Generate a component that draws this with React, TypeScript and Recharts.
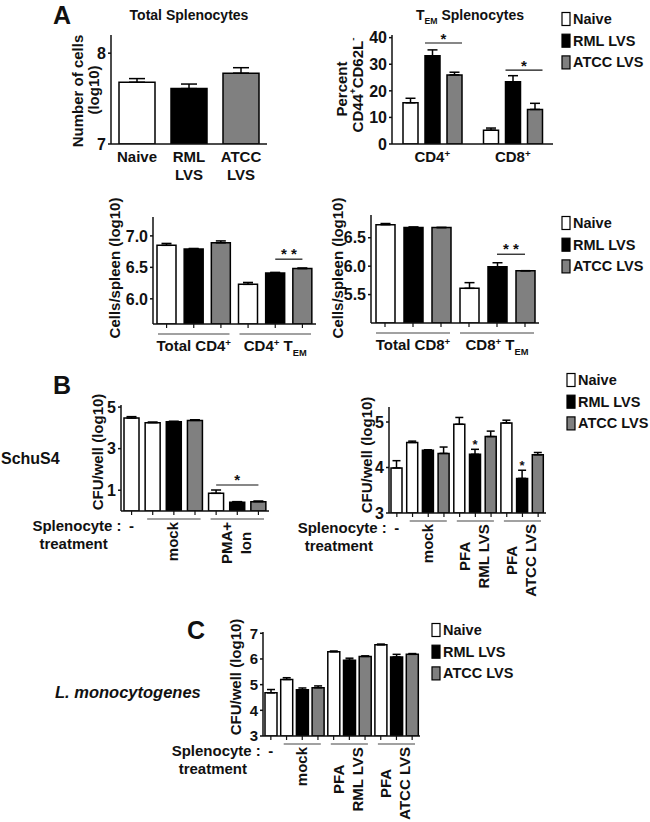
import React from 'react'
import { BarChart, Bar, XAxis, YAxis, Cell, ErrorBar, LabelList, ReferenceLine } from 'recharts'

const FONT = '"Liberation Sans", Arial, sans-serif'
const INK = '#111'

// Series shared by every panel
const SERIES = ['Naive', 'RML LVS', 'ATCC LVS']
const SERIES_FILL = ['#ffffff', '#000000', '#808080']

// A: total splenocytes, number of cells (log10)
const TOTAL_LABELS = [['Naive'], ['RML', 'LVS'], ['ATCC', 'LVS']]
const TOTAL_VALUES = [7.68, 7.61, 7.78]
const TOTAL_ERR = [0.04, 0.05, 0.06]

// A: TEM splenocytes, percent CD44+CD62L-
const TEM_CATS = ['CD4', 'CD8']
const TEM_NAIVE = [15.5, 5.2]
const TEM_NAIVE_ERR = [1.7, 0.8]
const TEM_RML = [33.2, 23.4]
const TEM_RML_ERR = [2.2, 2.3]
const TEM_ATCC = [26.0, 13.0]
const TEM_ATCC_ERR = [1.0, 2.3]
const TEM_SIG = [38, 27.8]

// A: CD4 cells/spleen (log10), per group: naive, RML, ATCC
const CD4_GROUPS = [['Total CD4', '^+'], ['CD4', '^+', '\u00a0T', '_EM']]
const CD4_VALUES = [[6.85, 6.79, 6.89], [6.23, 6.41, 6.48]]
const CD4_ERR = [[0.03, 0.01, 0.03], [0.03, 0.01, 0.01]]
const CD4_SIG = 6.63

// A: CD8 cells/spleen (log10)
const CD8_GROUPS = [['Total CD8', '^+'], ['CD8', '^+', '\u00a0T', '_EM']]
const CD8_VALUES = [[6.73, 6.68, 6.68], [5.61, 5.99, 5.92]]
const CD8_ERR = [[0.02, 0.01, 0.0], [0.1, 0.07, 0.0]]
const CD8_SIG = 6.21

// B: SchuS4, PMA+Ion
const PMA_GROUPS = [['-'], ['mock'], ['PMA+', 'Ion']]
const PMA_VALUES = [[4.47], [4.25, 4.29, 4.36], [0.85, 0.42, 0.45]]
const PMA_ERR = [[0.07], [0.03, 0.03, 0.03], [0.16, 0.03, 0.03]]
const PMA_SIG = 1.25

// B: SchuS4, PFA-fixed bacteria
const PFA_GROUPS = [['-'], ['mock'], ['PFA', 'RML LVS'], ['PFA', 'ATCC LVS']]
const PFA_VALUES = [[3.99], [4.55, 4.38, 4.31], [4.95, 4.29, 4.68], [4.98, 3.76, 4.28]]
const PFA_ERR = [[0.16], [0.03, 0.01, 0.14], [0.15, 0.11, 0.12], [0.06, 0.18, 0.05]]
const PFA_STARS = [[false], [false, false, false], [false, true, false], [false, true, false]]

// C: L. monocytogenes
const LM_VALUES = [[4.68], [5.2, 4.8, 4.88], [6.28, 5.95, 6.1], [6.55, 6.08, 6.18]]
const LM_ERR = [[0.13], [0.07, 0.07, 0.07], [0.03, 0.08, 0.02], [0.03, 0.1, 0.03]]

const AXIS = { stroke: INK, strokeWidth: 1.5 }
const LABEL = { fontSize: 15, fontWeight: 700, fill: INK, fontFamily: FONT }
const TOP = 20
const RIGHT = 12
const BOTTOM = 110

type Row = {
  id: string
  group: number
  pos: number
  size: number
  series: number
  value: number
  err: [number, number]
  star: boolean
}

function flatten(values: number[][], errs: number[][], stars?: boolean[][]): Row[] {
  const rows: Row[] = []
  values.forEach((g, gi) =>
    g.forEach((v, pi) =>
      rows.push({
        id: `${gi}-${pi}`,
        group: gi,
        pos: pi,
        size: g.length,
        series: g.length === 1 ? 0 : pi,
        value: v,
        err: [0, errs[gi][pi]],
        star: !!stars?.[gi]?.[pi],
      })
    )
  )
  return rows
}

let ctx: CanvasRenderingContext2D | null = null
function textWidth(s: string) {
  if (!ctx) ctx = document.createElement('canvas').getContext('2d')
  if (!ctx) return s.length * 9
  ctx.font = `bold 15px ${FONT}`
  return ctx.measureText(s).width
}

// tiny markup: '^x' superscript, '_x' subscript
function Rich({ parts, size }: { parts: string[]; size: number }) {
  let shift = 0
  return (
    <>
      {parts.map((p, i) => {
        let target = 0
        let fs = size
        let txt = p
        if (p[0] === '^') {
          target = -size * 0.36
          fs = size * 0.65
          txt = p.slice(1)
        } else if (p[0] === '_') {
          target = size * 0.3
          fs = size * 0.62
          txt = p.slice(1)
        }
        const dy = target - shift
        shift = target
        return (
          <tspan key={i} dy={dy} fontSize={fs}>
            {txt}
          </tspan>
        )
      })}
    </>
  )
}

type Rect = { x: number; y: number; w: number; h: number }

function Frame({ rect, left, data, barGap = 4, children }: any) {
  return (
    <div style={{ position: 'absolute', left: rect.x - left, top: rect.y - TOP }}>
      <BarChart
        width={left + rect.w + RIGHT}
        height={TOP + rect.h + BOTTOM}
        data={data}
        margin={{ top: TOP, right: RIGHT, left: 0, bottom: 0 }}
        barGap={barGap}
        barCategoryGap={0}
      >
        {children}
      </BarChart>
    </div>
  )
}

function yAxis(left: number, domain: number[], ticks: number[], fmt?: (v: number) => string, size = 16) {
  return (
    <YAxis
      type="number"
      width={left}
      domain={domain}
      ticks={ticks}
      allowDataOverflow
      interval={0}
      axisLine={AXIS}
      tickLine={AXIS}
      tickSize={3}
      tickMargin={2}
      tick={{ ...LABEL, fontSize: size }}
      tickFormatter={fmt}
    />
  )
}

function barView(p: any) {
  const vb = p.viewBox && p.viewBox.width != null ? p.viewBox : p
  return { x: +vb.x, y: +vb.y, width: +vb.width, height: +vb.height }
}

// ---------- A: total splenocytes ----------
function TotalPanel() {
  const rect: Rect = { x: 111, y: 35, w: 156, h: 109 }
  const left = 60
  const data = TOTAL_VALUES.map((v, i) => ({ id: String(i), value: v, err: [0, TOTAL_ERR[i]] }))
  const tick = (p: any) => {
    const ay = p.y - 4
    const lines = TOTAL_LABELS[+p.payload.value] || []
    return (
      <g>
        {lines.map((l, i) => (
          <text key={i} x={p.x} y={ay + 18 + i * 18} textAnchor="middle" {...LABEL}>
            {l}
          </text>
        ))}
      </g>
    )
  }
  return (
    <Frame rect={rect} left={left} data={data}>
      <XAxis dataKey="id" interval={0} height={BOTTOM} axisLine={AXIS} tickLine={false} tickSize={4} tickMargin={0} tick={tick} />
      {yAxis(left, [7, 8.2], [7, 8])}
      <Bar dataKey="value" barSize={36} stroke="#000" strokeWidth={1.5} isAnimationActive={false}>
        {data.map((d, i) => (
          <Cell key={d.id} fill={SERIES_FILL[i]} />
        ))}
        <ErrorBar dataKey="err" width={8} stroke="#000" strokeWidth={1.5} isAnimationActive={false} />
      </Bar>
    </Frame>
  )
}

// ---------- A: TEM percent ----------
const TEM_GAP = 7
function TemPanel() {
  const rect: Rect = { x: 392, y: 35, w: 161, h: 109 }
  const left = 60
  const data = TEM_CATS.map((c, i) => ({
    cat: c,
    n: TEM_NAIVE[i],
    nE: [0, TEM_NAIVE_ERR[i]],
    r: TEM_RML[i],
    rE: [0, TEM_RML_ERR[i]],
    a: TEM_ATCC[i],
    aE: [0, TEM_ATCC_ERR[i]],
  }))
  const tick = (p: any) => (
    <text x={p.x} y={p.y - 4 + 18} textAnchor="middle" {...LABEL}>
      <Rich parts={[p.payload.value, '^+']} size={15} />
    </text>
  )
  const sig = (p: any) => {
    const { x, y, width, height } = barView(p)
    const i = p.index
    if (i == null || !height) return null
    const ppu = height / TEM_ATCC[i]
    const ly = y + height - TEM_SIG[i] * ppu
    const x1 = x - TEM_GAP - width
    const x2 = x + width
    return (
      <g>
        <line x1={x1} x2={x2} y1={ly} y2={ly} stroke={INK} strokeWidth={1.2} />
        <text x={(x1 + x2) / 2} y={ly + 1} textAnchor="middle" {...LABEL}>
          *
        </text>
      </g>
    )
  }
  const keys = [
    ['n', 'nE'],
    ['r', 'rE'],
    ['a', 'aE'],
  ]
  return (
    <Frame rect={rect} left={left} data={data} barGap={TEM_GAP}>
      <XAxis dataKey="cat" interval={0} height={BOTTOM} axisLine={AXIS} tickLine={false} tickSize={4} tickMargin={0} tick={tick} />
      {yAxis(left, [0, 41], [0, 10, 20, 30, 40])}
      {keys.map(([k, e], s) => (
        <Bar key={k} dataKey={k} barSize={15} fill={SERIES_FILL[s]} stroke="#000" strokeWidth={1.5} isAnimationActive={false}>
          <ErrorBar dataKey={e} width={5} stroke="#000" strokeWidth={1.5} isAnimationActive={false} />
          {s === 2 && <LabelList dataKey="a" content={sig} />}
        </Bar>
      ))}
    </Frame>
  )
}

// ---------- flat panels (one bar per row) ----------
function groupTick(rows: Row[], groups: string[][], pitch: number) {
  return (p: any) => {
    const row = rows.find((r) => r.id === p.payload.value)
    if (!row || row.pos !== 1) return <g />
    const ay = p.y - 4
    const half = 1.5 * pitch - 5
    return (
      <g>
        <line x1={p.x - half} x2={p.x + half} y1={ay + 10} y2={ay + 10} stroke="#444" strokeWidth={1.2} />
        <text x={p.x} y={ay + 27} textAnchor="middle" {...LABEL}>
          <Rich parts={groups[row.group]} size={15} />
        </text>
      </g>
    )
  }
}

function treatTick(rows: Row[], groups: string[][], pitch: number) {
  return (p: any) => {
    const row = rows.find((r) => r.id === p.payload.value)
    if (!row) return <g />
    const ay = p.y - 4
    if (row.size === 1) {
      return (
        <g>
          <text x={p.x} y={ay + 20} textAnchor="middle" {...LABEL}>
            {groups[row.group][0]}
          </text>
          <text x={p.x - 10} y={ay + 20} textAnchor="end" {...LABEL}>
            Splenocyte :
          </text>
          <text x={p.x - 58} y={ay + 38} textAnchor="middle" {...LABEL}>
            treatment
          </text>
        </g>
      )
    }
    if (row.pos !== 1) return <g />
    const lines = groups[row.group]
    const len = Math.max(...lines.map((l) => textWidth(l)))
    const cy = ay + 11 + len / 2
    const half = 1.5 * pitch - 5
    return (
      <g>
        <line x1={p.x - half} x2={p.x + half} y1={ay + 8} y2={ay + 8} stroke="#444" strokeWidth={1.2} />
        {lines.map((l, i) => {
          const lx = p.x + (i - (lines.length - 1) / 2) * 19 - 1
          return (
            <text
              key={i}
              x={lx}
              y={cy}
              transform={`rotate(-90 ${lx} ${cy})`}
              textAnchor="middle"
              dominantBaseline="central"
              {...LABEL}
            >
              {l}
            </text>
          )
        })}
      </g>
    )
  }
}

type FlatProps = {
  rect: Rect
  left: number
  rows: Row[]
  domain: number[]
  ticks: number[]
  fmt?: (v: number) => string
  tickFont?: number
  barSize: number
  cap: number
  mode: 'group' | 'treat'
  groups: string[][]
  sig?: { from: string; to: string; y: number; label: string }
}

function FlatPanel({ rect, left, rows, domain, ticks, fmt, tickFont = 16, barSize, cap, mode, groups, sig }: FlatProps) {
  const pitch = rect.w / rows.length
  const tick = mode === 'group' ? groupTick(rows, groups, pitch) : treatTick(rows, groups, pitch)
  const star = (p: any) => {
    const row = rows[p.index]
    if (!row || !row.star) return null
    const { x, y, width, height } = barView(p)
    const ppu = height / (row.value - domain[0])
    const cy = y - row.err[1] * ppu
    return (
      <text x={x + width / 2} y={cy} textAnchor="middle" {...LABEL} fontSize={13}>
        *
      </text>
    )
  }
  return (
    <Frame rect={rect} left={left} data={rows}>
      <XAxis dataKey="id" interval={0} height={BOTTOM} axisLine={AXIS} tickLine={{ stroke: INK, strokeWidth: 1.2 }} tickSize={4} tickMargin={0} tick={tick} />
      {yAxis(left, domain, ticks, fmt, tickFont)}
      <Bar dataKey="value" barSize={barSize} stroke="#000" strokeWidth={1.5} isAnimationActive={false}>
        {rows.map((r) => (
          <Cell key={r.id} fill={SERIES_FILL[r.series]} />
        ))}
        <ErrorBar dataKey="err" width={cap} stroke="#000" strokeWidth={1.5} isAnimationActive={false} />
        <LabelList dataKey="value" content={star} />
      </Bar>
      {sig && (
        <ReferenceLine
          segment={[
            { x: sig.from, y: sig.y },
            { x: sig.to, y: sig.y },
          ]}
          stroke={INK}
          strokeWidth={1.2}
          ifOverflow="visible"
          label={{ value: sig.label, position: 'top', offset: 0, fill: INK, fontSize: 15, fontWeight: 700 }}
        />
      )}
    </Frame>
  )
}

// ---------- free text, legends ----------
function VTitle({ x, y, children, size = 15 }: any) {
  return (
    <text
      x={x}
      y={y}
      transform={`rotate(-90 ${x} ${y})`}
      textAnchor="middle"
      dominantBaseline="central"
      {...LABEL}
      fontSize={size}
    >
      {children}
    </text>
  )
}

function Legend({ x, y }: { x: number; y: number }) {
  return (
    <g>
      {SERIES.map((s, i) => {
        const cy = y + i * 21.7
        return (
          <g key={s}>
            <rect x={x} y={cy - 6.5} width={8} height={13} fill={SERIES_FILL[i]} stroke="#000" strokeWidth={1.2} />
            <text x={x + 11} y={cy + 5} {...LABEL} fontSize={14.5}>
              {s}
            </text>
          </g>
        )
      })}
    </g>
  )
}

function Overlay() {
  return (
    <svg width={650} height={822} style={{ position: 'absolute', left: 0, top: 0 }}>
      <text x={53} y={24} {...LABEL} fontSize={25}>A</text>
      <text x={53} y={394} {...LABEL} fontSize={25}>B</text>
      <text x={187} y={639} {...LABEL} fontSize={25}>C</text>

      <text x={189} y={20} textAnchor="middle" {...LABEL} fontSize={14}>
        Total Splenocytes
      </text>
      <text x={470} y={20} textAnchor="middle" {...LABEL} fontSize={14}>
        <Rich parts={['T', '_EM', '\u00a0Splenocytes']} size={14} />
      </text>

      <VTitle x={77} y={91}>Number of cells</VTitle>
      <VTitle x={93} y={90}>(log10)</VTitle>
      <VTitle x={341} y={89}>Percent</VTitle>
      <VTitle x={357} y={85}>
        <Rich parts={['CD44', '^+', 'CD62L', '^-']} size={15} />
      </VTitle>
      <VTitle x={114} y={268}>Cells/spleen (log10)</VTitle>
      <VTitle x={337} y={268}>Cells/spleen (log10)</VTitle>
      <VTitle x={97} y={452}>CFU/well (log10)</VTitle>
      <VTitle x={366} y={455}>CFU/well (log10)</VTitle>
      <VTitle x={235} y={677}>CFU/well (log10)</VTitle>

      <text x={1} y={464} {...LABEL} fontSize={16}>SchuS4</text>
      <text x={55} y={698} {...LABEL} fontSize={16.5} fontStyle="italic">
        L. monocytogenes
      </text>

      <Legend x={562} y={19} />
      <Legend x={562} y={223} />
      <Legend x={567} y={380} />
      <Legend x={432} y={630} />
    </svg>
  )
}

export default function App() {
  const cd4 = flatten(CD4_VALUES, CD4_ERR)
  const cd8 = flatten(CD8_VALUES, CD8_ERR)
  const pma = flatten(PMA_VALUES, PMA_ERR)
  const pfa = flatten(PFA_VALUES, PFA_ERR, PFA_STARS)
  const lm = flatten(LM_VALUES, LM_ERR)
  const one = (v: number) => v.toFixed(1)
  return (
    <div style={{ position: 'absolute', left: 0, top: 0, width: 650, height: 822, background: '#fff', fontFamily: FONT }}>
      <Overlay />
      <TotalPanel />
      <TemPanel />
      <FlatPanel
        rect={{ x: 153, y: 217, w: 163, h: 107 }}
        left={60}
        rows={cd4}
        domain={[5.6, 7.3]}
        ticks={[6, 6.5, 7]}
        fmt={one}
        barSize={19}
        cap={5}
        mode="group"
        groups={CD4_GROUPS}
        sig={{ from: '1-1', to: '1-2', y: CD4_SIG, label: '* *' }}
      />
      <FlatPanel
        rect={{ x: 371, y: 215, w: 168, h: 108 }}
        left={60}
        rows={cd8}
        domain={[5.0, 6.9]}
        ticks={[5.5, 6, 6.5]}
        fmt={one}
        barSize={19}
        cap={5}
        mode="group"
        groups={CD8_GROUPS}
        sig={{ from: '1-1', to: '1-2', y: CD8_SIG, label: '* *' }}
      />
      <FlatPanel
        rect={{ x: 121, y: 405, w: 148, h: 106 }}
        left={130}
        rows={pma}
        domain={[0, 5.1]}
        ticks={[1, 3, 5]}
        barSize={15}
        cap={5}
        mode="treat"
        groups={PMA_GROUPS}
        sig={{ from: '2-0', to: '2-2', y: PMA_SIG, label: '*' }}
      />
      <FlatPanel
        rect={{ x: 389, y: 407, w: 157, h: 106 }}
        left={130}
        rows={pfa}
        domain={[3, 5.33]}
        ticks={[3, 4, 5]}
        barSize={11}
        cap={4}
        mode="treat"
        groups={PFA_GROUPS}
      />
      <FlatPanel
        rect={{ x: 263, y: 632, w: 157, h: 104 }}
        left={130}
        rows={lm}
        domain={[3, 7.05]}
        ticks={[3, 4, 5, 6, 7]}
        tickFont={15}
        barSize={12}
        cap={4}
        mode="treat"
        groups={PFA_GROUPS}
      />
    </div>
  )
}
